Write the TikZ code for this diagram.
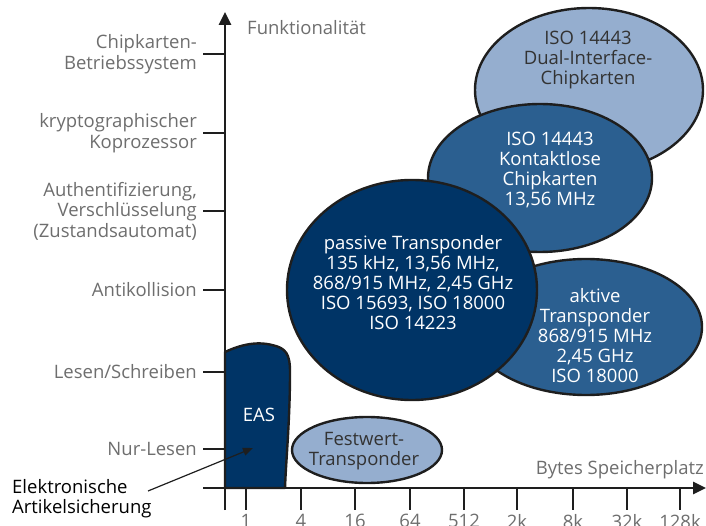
\documentclass[tikz,border=0pt]{standalone}
\usepackage{fontspec}
\setmainfont{Open Sans}
\usetikzlibrary{arrows.meta}
\definecolor{lightblue}{RGB}{149,174,207}
\definecolor{midblue}{RGB}{43,95,144}
\definecolor{darkblue}{RGB}{0,52,102}
\definecolor{axisgray}{RGB}{110,110,110}
\definecolor{linecol}{RGB}{30,30,30}
\begin{document}
\begin{tikzpicture}[x=1pt,y=-1pt,line join=round,
  blob/.style={draw=linecol,line width=2.4pt},
  axisline/.style={draw=linecol,line width=2.6pt},
  tickline/.style={draw=linecol,line width=2.4pt},
  lab/.style={font=\fontsize{18.5}{20.5}\selectfont,text=axisgray,inner sep=0pt},
  ylab/.style={lab,align=right,anchor=east},
  xlab/.style={lab,anchor=north},
  inlight/.style={font=\fontsize{18.5}{20}\selectfont,text=black!80,align=center,inner sep=0pt},
  indark/.style={font=\fontsize{18.5}{20}\selectfont,text=white,align=center,inner sep=0pt}]
\useasboundingbox (0,0) rectangle (706,526);
% blobs
\path[blob,fill=lightblue] (589,90) ellipse [x radius=114pt,y radius=82pt];
\node[inlight] (dual) at (588,60) {ISO 14443\\Dual-Interface-\\Chipkarten};
\path[blob,fill=midblue] (540,178) ellipse [x radius=112pt,y radius=74pt];
\node[indark] (kontakt) at (550,170) {ISO 14443\\Kontaktlose\\Chipkarten\\13,56 MHz};
\path[blob,fill=midblue] (586,327) ellipse [x radius=116pt,y radius=68pt];
\node[indark] (aktiv) at (595,336) {aktive\\Transponder\\868/915 MHz\\2,45 GHz\\ISO 18000};
\path[blob,fill=darkblue] (412,290) ellipse [x radius=125pt,y radius=110pt];
\node[indark] (passiv) at (413,283) {passive Transponder\\135 kHz, 13,56 MHz,\\868/915 MHz, 2,45 GHz\\ISO 15693, ISO 18000\\ISO 14223};
\path[blob,fill=lightblue] (367,450) ellipse [x radius=75pt,y radius=33pt];
\node[inlight] (fest) at (364,451) {Festwert-\\Transponder};
% EAS
\path[blob,fill=darkblue] (225,352) .. controls (240,345) and (256,341) .. (272,345)
  .. controls (286,348) and (290,354) .. (290,372)
  .. controls (290,420) and (286,460) .. (285,488) -- (225,488) -- cycle;
\node[indark] (eas) at (259,415) {EAS};
% axes
\draw[axisline,-{Triangle[length=13pt,width=12pt]}] (225,510) -- (225,12);
\draw[axisline,-{Triangle[length=13pt,width=12pt]}] (203,488) -- (706,488);
\node[lab,anchor=west] (ytitle) at (247,28) {Funktionalität};
\node[lab,anchor=east] (xtitle) at (704,470) {Bytes Speicherplatz};
% y ticks
\foreach \yy/\txt in {54/{Chipkarten-\\Betriebssystem},133/{kryptographischer\\Koprozessor},
  211/{Authentifizierung,\\Verschlüsselung\\(Zustandsautomat)},290/{Antikollision},
  372/{Lesen/Schreiben},449/{Nur-Lesen}}{
  \draw[tickline] (203,\yy) -- (225,\yy);
  \node[ylab] at (197,\yy) {\txt};
}
% x ticks
\foreach \xx/\txt in {246/1,301/4,355/16,410/64,464/512,517/2k,573/8k,627/32k,680/128k}{
  \draw[tickline] (\xx,488) -- (\xx,510);
  \node[xlab] at (\xx,514) {\txt};
}
% EAS annotation
\node[font=\fontsize{18.5}{20.5}\selectfont,text=black,align=left,anchor=north west,inner sep=0pt] (elab) at (12,479) {Elektronische\\Artikelsicherung};
\coordinate (astart) at (148,491);
\coordinate (aend) at (253,448);
\draw[draw=linecol,line width=1.2pt,-{Triangle[length=10pt,width=8pt]}] (astart) -- (aend);
\end{tikzpicture}
\end{document}
